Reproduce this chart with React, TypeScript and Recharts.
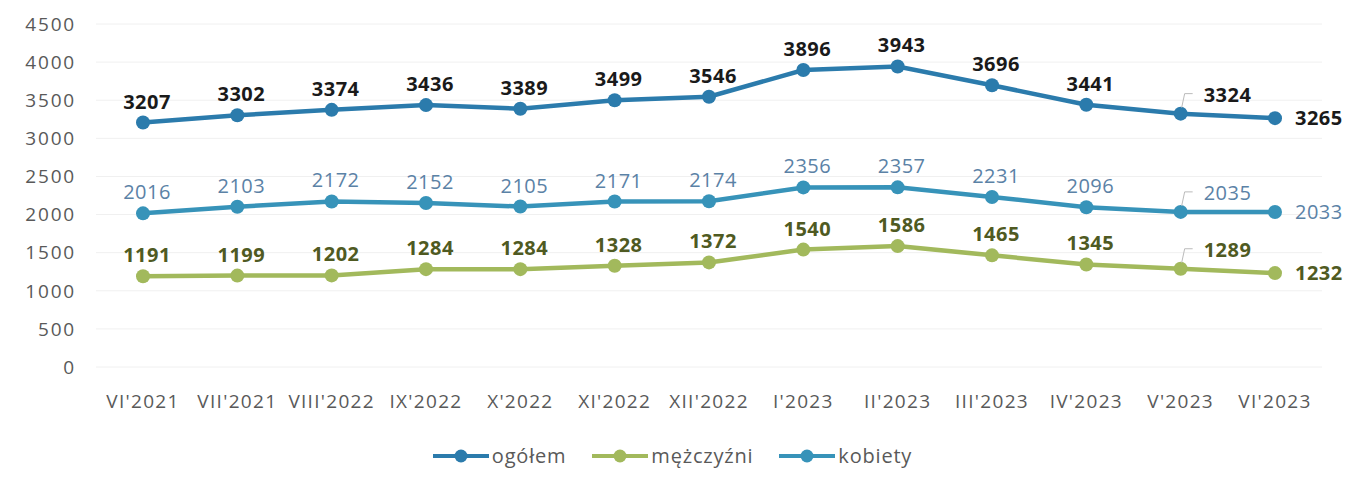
import { CartesianGrid, Line, LineChart, XAxis, YAxis } from "recharts";

const months = ["VI'2021", "VII'2021", "VIII'2022", "IX'2022", "X'2022", "XI'2022", "XII'2022", "I'2023", "II'2023", "III'2023", "IV'2023", "V'2023", "VI'2023"];
const ogolem = [3207, 3302, 3374, 3436, 3389, 3499, 3546, 3896, 3943, 3696, 3441, 3324, 3265];
const mezczyzni = [1191, 1199, 1202, 1284, 1284, 1328, 1372, 1540, 1586, 1465, 1345, 1289, 1232];
const kobiety = [2016, 2103, 2172, 2152, 2105, 2171, 2174, 2356, 2357, 2231, 2096, 2035, 2033];
const yTicks = [0, 500, 1000, 1500, 2000, 2500, 3000, 3500, 4000, 4500];

const data = months.map((m, i) => ({
  month: m,
  ogolem: ogolem[i],
  mezczyzni: mezczyzni[i],
  kobiety: kobiety[i],
}));

const FONT = "'Open Sans', sans-serif";

const makeLabel = (color: string, weight: string) => (props: any) => {
  const { x, y, value, index } = props;
  if (index === 12) {
    return (
      <text x={x + 20} y={y + 7} fill={color} fontWeight={weight} fontSize={20} fontFamily={FONT} textAnchor="start" letterSpacing={0.5}>
        {value}
      </text>
    );
  }
  if (index === 11) {
    return (
      <g>
        <polyline points={`${x + 1},${y - 6} ${x + 4},${y - 20} ${x + 12},${y - 20}`} fill="none" stroke="#bbbbbb" strokeWidth={1} />
        <text x={x + 23} y={y - 12} fill={color} fontWeight={weight} fontSize={20} fontFamily={FONT} textAnchor="start" letterSpacing={0.5}>
          {value}
        </text>
      </g>
    );
  }
  return (
    <text x={x + 4} y={y - 14} fill={color} fontWeight={weight} fontSize={20} fontFamily={FONT} textAnchor="middle" letterSpacing={0.5}>
      {value}
    </text>
  );
};

const legendItems = [
  { name: "ogółem", color: "#2b7bac" },
  { name: "mężczyźni", color: "#a2b95c" },
  { name: "kobiety", color: "#3793b9" },
];

const LegendContent = () => (
  <div style={{ display: "flex", justifyContent: "center", gap: 26, fontFamily: FONT, fontSize: 20, letterSpacing: 0.8, color: "#595959" }}>
    {legendItems.map((it) => (
      <div key={it.name} style={{ display: "flex", alignItems: "center" }}>
        <svg width={56} height={16}>
          <line x1={0} y1={8} x2={56} y2={8} stroke={it.color} strokeWidth={4} />
          <circle cx={28} cy={8} r={6.5} fill={it.color} />
        </svg>
        <span style={{ marginLeft: 3 }}>{it.name}</span>
      </div>
    ))}
  </div>
);

export default function App() {
  return (
    <div style={{ position: "absolute", left: 0, top: 0, width: 1345, height: 484, background: "#fff" }}>
      <LineChart width={1345} height={484} data={data} margin={{ top: 24, right: 23, left: 0, bottom: 57 }}>
        <CartesianGrid vertical={false} stroke="#f0f0f0" />
        <XAxis
          dataKey="month"
          axisLine={false}
          tickLine={false}
          interval={0}
          padding={{ left: 47, right: 47 }}
          tick={{ fill: "#595959", fontSize: 19, fontFamily: FONT, letterSpacing: 1.3 }}
          tickMargin={22}
          height={60}
        />
        <YAxis
          width={96}
          domain={[0, 4500]}
          ticks={yTicks}
          axisLine={false}
          tickLine={false}
          tick={{ fill: "#595959", fontSize: 19, fontFamily: FONT, letterSpacing: 1.8 }}
          tickMargin={14}
        />
        <Line
          dataKey="ogolem"
          name="ogółem"
          stroke="#2b7bac"
          strokeWidth={4.5}
          dot={{ r: 7, fill: "#2b7bac", stroke: "#2b7bac", strokeWidth: 0 }}
          isAnimationActive={false}
          label={makeLabel("#1a1a1a", "bold")}
        />
        <Line
          dataKey="mezczyzni"
          name="mężczyźni"
          stroke="#a2b95c"
          strokeWidth={4.5}
          dot={{ r: 7, fill: "#a2b95c", stroke: "#a2b95c", strokeWidth: 0 }}
          isAnimationActive={false}
          label={makeLabel("#4f5a22", "bold")}
        />
        <Line
          dataKey="kobiety"
          name="kobiety"
          stroke="#3793b9"
          strokeWidth={4.5}
          dot={{ r: 7, fill: "#3793b9", stroke: "#3793b9", strokeWidth: 0 }}
          isAnimationActive={false}
          label={makeLabel("#5b82a6", "normal")}
        />
      </LineChart>
      <div style={{ position: "absolute", left: 0, top: 442, width: 1345 }}>
        <LegendContent />
      </div>
    </div>
  );
}
